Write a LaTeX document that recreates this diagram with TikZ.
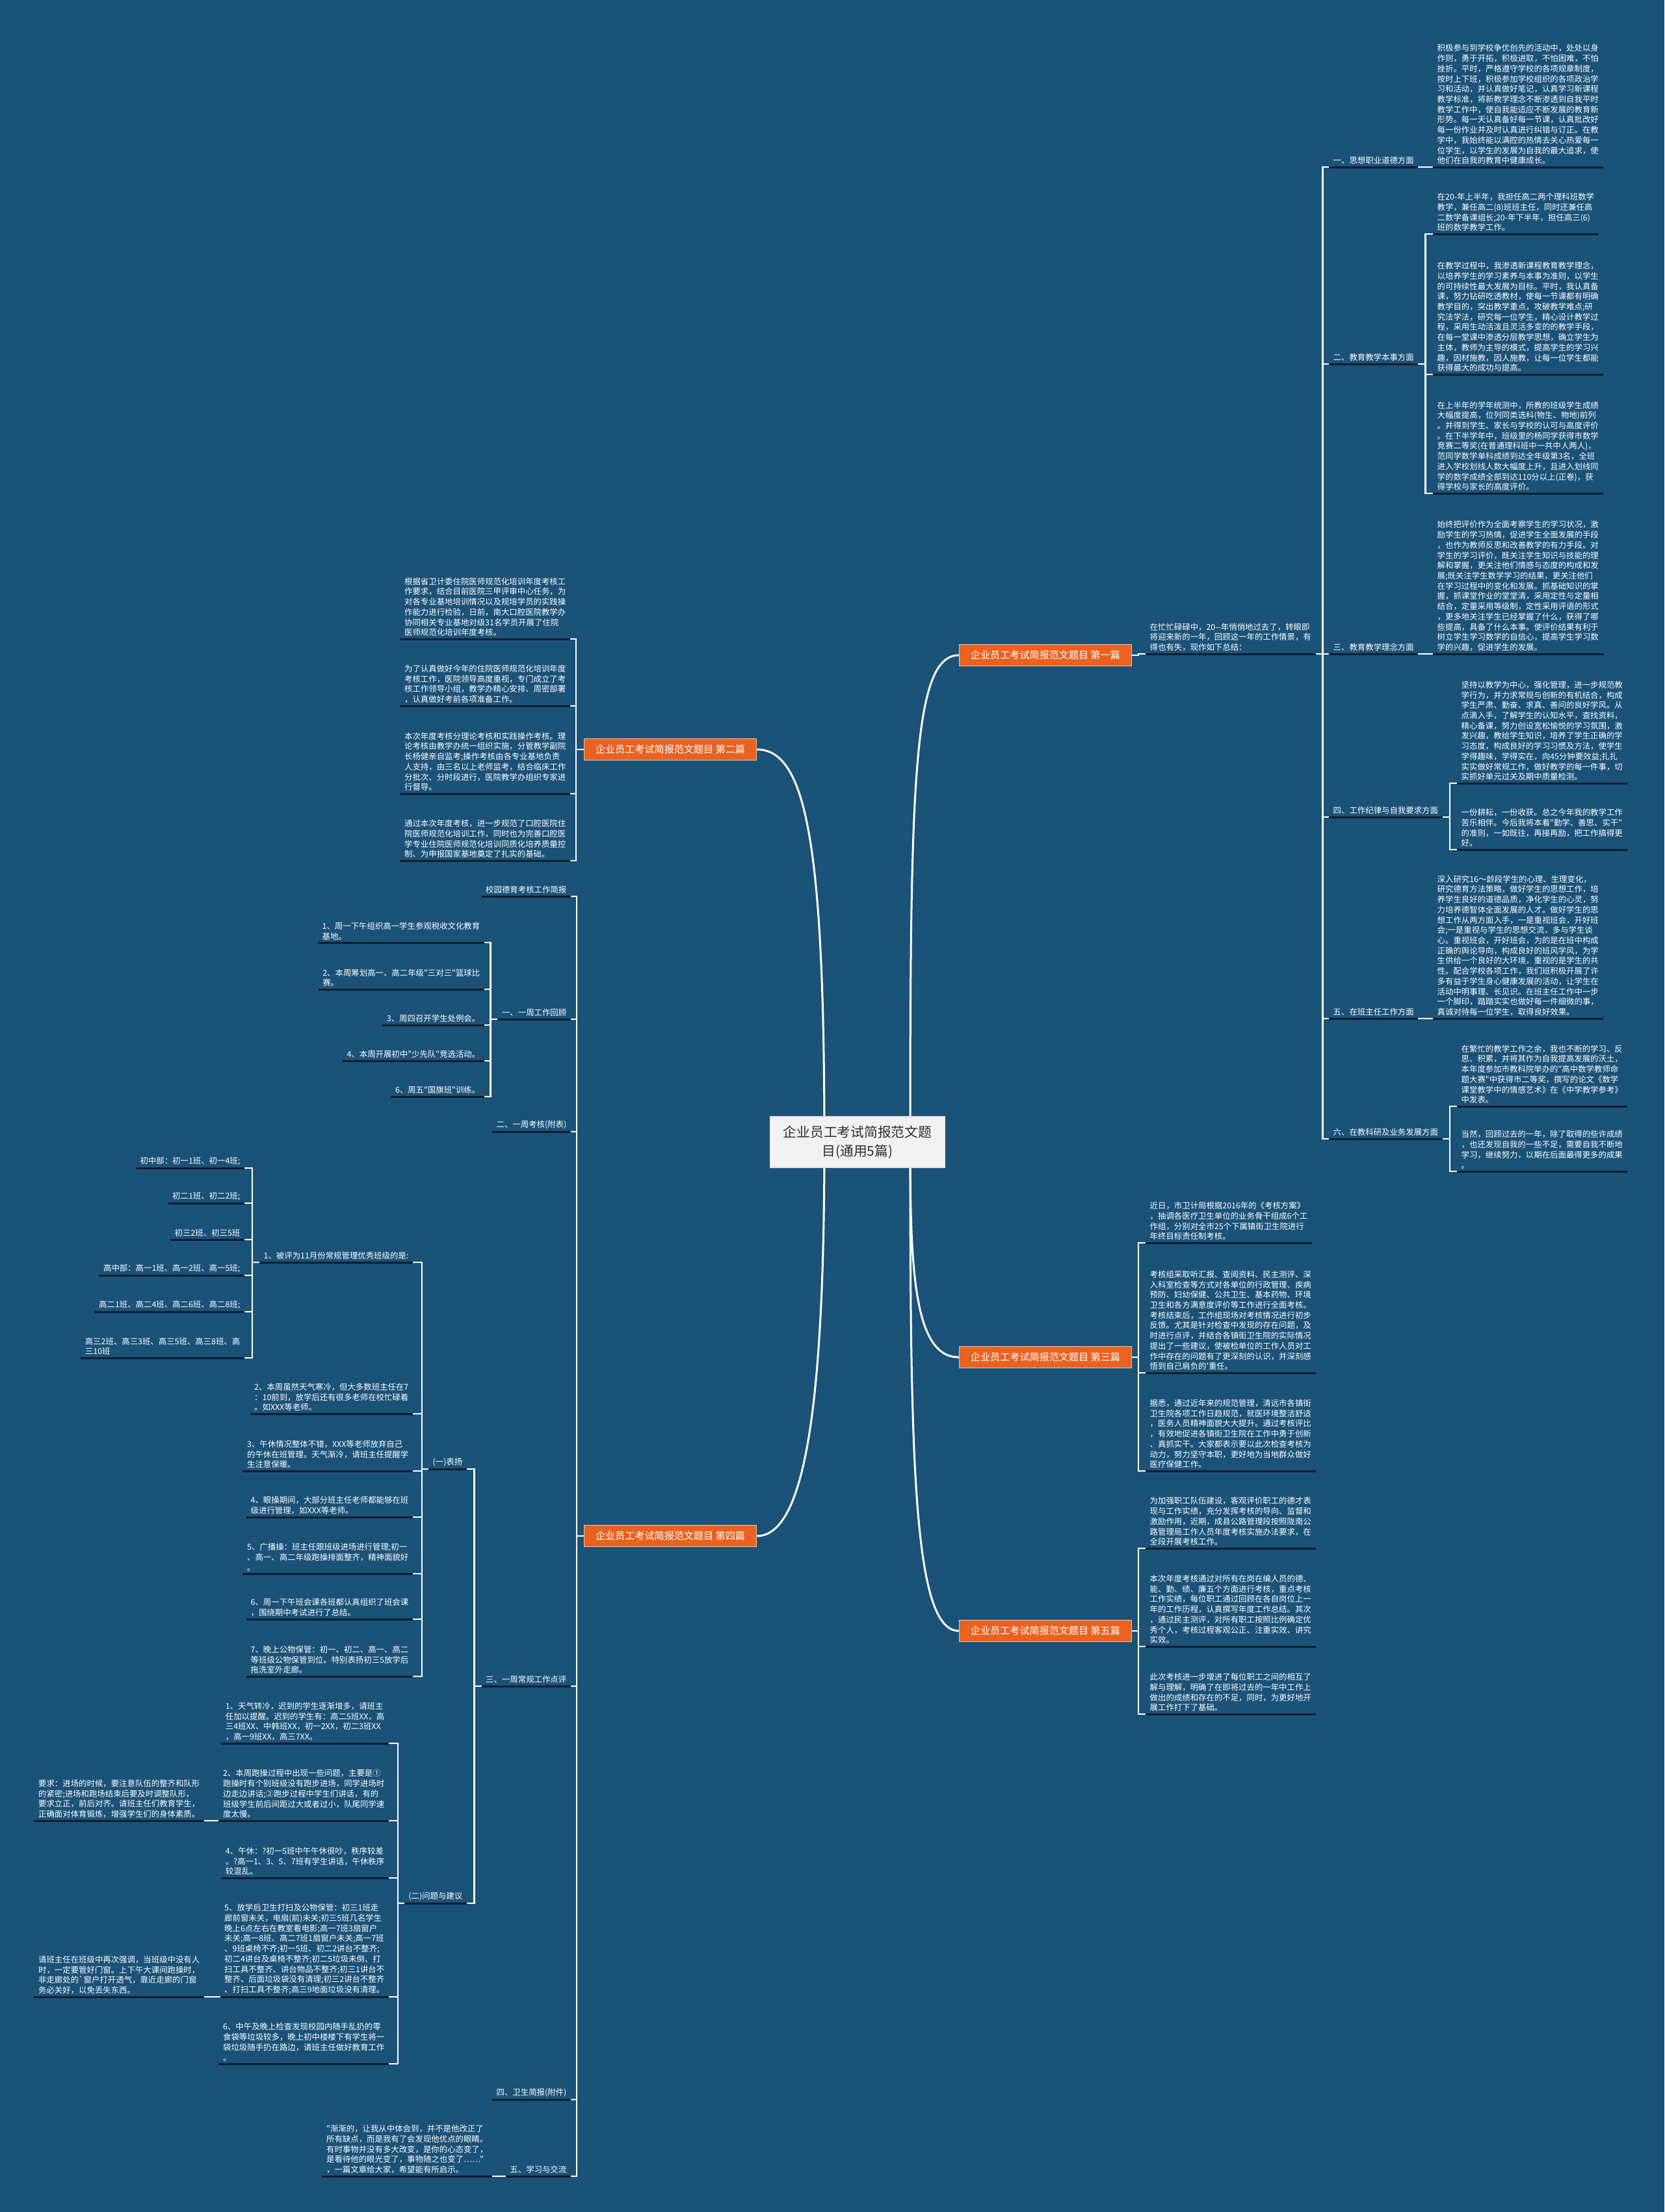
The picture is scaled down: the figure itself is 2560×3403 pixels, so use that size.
\documentclass[tikz,border=0pt]{standalone}
\usepackage{fontspec}
\newfontfamily\cjk{Noto Sans CJK SC}
\usepackage{tikz}

\definecolor{bgblue}{RGB}{27,82,120}
\definecolor{ulinecol}{RGB}{12,30,45}
\definecolor{branchfill}{RGB}{232,98,32}
\definecolor{branchedge}{RGB}{246,196,166}
\definecolor{rootfill}{RGB}{241,241,241}
\definecolor{roottext}{RGB}{45,45,45}

\newcommand\leaffont{\cjk\fontsize{3.53pt}{4.47pt}\selectfont}
\newcommand\branchfont{\cjk\fontsize{4.3pt}{5.2pt}\selectfont}
\newcommand\rootfont{\cjk\fontsize{5.9pt}{8.4pt}\selectfont}

\begin{document}
\begin{tikzpicture}[
    x=0.1mm, y=-0.1mm,
    uline/.style={draw=ulinecol, line width=0.3mm},
    leaf/.style={font=\leaffont, text=white, align=left, inner xsep=0.6mm, inner ysep=0.35mm},
    rleaf/.style={leaf, anchor=south west,
      append after command={(\tikzlastnode.south west) edge[uline] (\tikzlastnode.south east)}},
    lleaf/.style={leaf, anchor=south east,
      append after command={(\tikzlastnode.south west) edge[uline] (\tikzlastnode.south east)}},
    branch/.style={rectangle, fill=branchfill, draw=branchedge, line width=0.15mm,
      text=white, font=\branchfont, minimum width=26.5mm, minimum height=3.3mm, inner sep=0pt},
    rootbox/.style={rectangle, fill=rootfill, draw=white!80!gray, line width=0.15mm,
      text=roottext, font=\rootfont, align=center, minimum width=26.9mm, minimum height=7.8mm},
    link/.style={draw=white, line width=0.24mm},
    curve/.style={draw=white, line width=0.3mm}
  ]
  \fill[bgblue] (0,0) rectangle (2560,3403);

  \node[branch] (one)   at (1608,1008) {企业员工考试简报范文题目 第一篇};
  \node[branch] (two)   at (1031,1153) {企业员工考试简报范文题目 第二篇};
  \node[branch] (three) at (1608,2088) {企业员工考试简报范文题目 第三篇};
  \node[branch] (four)  at (1031,2363) {企业员工考试简报范文题目 第四篇};
  \node[branch] (five)  at (1608,2509) {企业员工考试简报范文题目 第五篇};

  \coordinate (rootR) at (1400,1757);
  \coordinate (rootL) at (1268,1757);
  \draw[curve] (rootR) .. controls (1400,1200) and (1405,1008) .. (one.west);
  \draw[curve] (rootL) .. controls (1268,1300) and (1240,1153) .. (two.east);
  \draw[curve] (rootR) .. controls (1400,1950) and (1405,2088) .. (three.west);
  \draw[curve] (rootL) .. controls (1268,2150) and (1240,2363) .. (four.east);
  \draw[curve] (rootR) .. controls (1400,2250) and (1405,2509) .. (five.west);

  \node[rootbox] (root) at (1319,1757) {企业员工考试简报范文题\\目(通用5篇)};

  \node[rleaf] (intro) at (1762,1006) {在忙忙碌碌中，20--年悄悄地过去了，转眼即\\将迎来新的一年，回顾这一年的工作情景，有\\得也有失，现作如下总结：};

  \node[rleaf] (ethic) at (2044,257)  {一、思想职业道德方面};
  \node[rleaf] (skill) at (2044,560)  {二、教育教学本事方面};
  \node[rleaf] (idea)  at (2044,1006) {三、教育教学理念方面};
  \node[rleaf] (rule)  at (2044,1257) {四、工作纪律与自我要求方面};
  \node[rleaf] (head)  at (2044,1567) {五、在班主任工作方面};
  \node[rleaf] (study) at (2044,1752) {六、在教科研及业务发展方面};

  \node[rleaf] (ethicA) at (2204,257) {积极参与到学校争优创先的活动中，处处以身\\作则，勇于开拓，积极进取，不怕困难，不怕\\挫折。平时，严格遵守学校的各项规章制度，\\按时上下班，积极参加学校组织的各项政治学\\习和活动，并认真做好笔记，认真学习新课程\\教学标准，将新教学理念不断渗透到自我平时\\教学工作中，使自我能适应不断发展的教育新\\形势。每一天认真备好每一节课，认真批改好\\每一份作业并及时认真进行纠错与订正。在教\\学中，我始终能以满腔的热情去关心热爱每一\\位学生，以学生的发展为自我的最大追求，使\\他们在自我的教育中健康成长。};
  \node[rleaf] (skillA) at (2204,360) {在20-年上半年，我担任高二两个理科班数学\\教学，兼任高二(8)班班主任，同时还兼任高\\二数学备课组长;20-年下半年，担任高三(6)\\班的数学教学工作。};
  \node[rleaf] (skillB) at (2204,576) {在教学过程中，我渗透新课程教育教学理念，\\以培养学生的学习素养与本事为准则，以学生\\的可持续性最大发展为目标。平时，我认真备\\课，努力钻研吃透教材，使每一节课都有明确\\教学目的，突出教学重点，攻破教学难点;研\\究法学法，研究每一位学生，精心设计教学过\\程，采用生动活泼且灵活多变的的教学手段，\\在每一堂课中渗透分层教学思想，确立学生为\\主体，教师为主导的模式，提高学生的学习兴\\趣，因材施教，因人施教，让每一位学生都能\\获得最大的成功与提高。};
  \node[rleaf] (skillC) at (2204,759) {在上半年的学年统测中，所教的班级学生成绩\\大幅度提高，位列同类选科(物生、物地)前列\\。并得到学生、家长与学校的认可与高度评价\\。在下半学年中，班级里的杨同学获得市数学\\竞赛二等奖(在普通理科班中一共中人两人)，\\范同学数学单科成绩到达全年级第3名，全班\\进入学校划线人数大幅度上升，且进入划线同\\学的数学成绩全部到达110分以上(正卷)，获\\得学校与家长的高度评价。};
  \node[rleaf] (ideaA) at (2204,1006) {始终把评价作为全面考察学生的学习状况，激\\励学生的学习热情，促进学生全面发展的手段\\，也作为教师反思和改善教学的有力手段。对\\学生的学习评价，既关注学生知识与技能的理\\解和掌握，更关注他们情感与态度的构成和发\\展;既关注学生数学学习的结果，更关注他们\\在学习过程中的变化和发展。抓基础知识的掌\\握，抓课堂作业的堂堂清，采用定性与定量相\\结合，定量采用等级制，定性采用评语的形式\\，更多地关注学生已经掌握了什么，获得了哪\\些提高，具备了什么本事。使评价结果有利于\\树立学生学习数学的自信心，提高学生学习数\\学的兴趣，促进学生的发展。};
  \node[rleaf] (ruleA) at (2241,1205) {坚持以教学为中心，强化管理，进一步规范教\\学行为，并力求常规与创新的有机结合，构成\\学生严肃、勤奋、求真、善问的良好学风。从\\点滴入手，了解学生的认知水平，查找资料，\\精心备课，努力创设宽松愉悦的学习氛围，激\\发兴趣，教给学生知识，培养了学生正确的学\\习态度，构成良好的学习习惯及方法，使学生\\学得趣味，学得实在，向45分钟要效益;扎扎\\实实做好常规工作，做好教学的每一件事，切\\实抓好单元过关及期中质量检测。};
  \node[rleaf] (ruleB) at (2241,1307) {一份耕耘，一份收获。总之今年我的教学工作\\苦乐相伴。今后我将本着"勤学、善思、实干"\\的准则，一如既往，再接再励，把工作搞得更\\好。};
  \node[rleaf] (headA) at (2204,1567) {深入研究16～龄段学生的心理、生理变化，\\研究德育方法策略，做好学生的思想工作，培\\养学生良好的道德品质，净化学生的心灵，努\\力培养德智体全面发展的人才。做好学生的思\\想工作从两方面入手，一是重视班会，开好班\\会;一是重视与学生的思想交流，多与学生谈\\心。重视班会，开好班会，为的是在班中构成\\正确的舆论导向，构成良好的班风学风，为学\\生供给一个良好的大环境，重视的是学生的共\\性。配合学校各项工作，我们班积极开展了许\\多有益于学生身心健康发展的活动，让学生在\\活动中明事理、长见识。在班主任工作中一步\\一个脚印，踏踏实实也做好每一件细微的事，\\真诚对待每一位学生，取得良好效果。};
  \node[rleaf] (studyA) at (2241,1702) {在繁忙的教学工作之余，我也不断的学习、反\\思、积累，并将其作为自我提高发展的沃土，\\本年度参加市教科院举办的"高中数学教师命\\题大赛"中获得市二等奖，撰写的论文《数学\\课堂教学中的情感艺术》在《中学教学参考》\\中发表。};
  \node[rleaf] (studyB) at (2241,1802) {当然，回顾过去的一年，除了取得的些许成绩\\，也还发现自我的一些不足，需要自我不断地\\学习，继续努力，以期在后面最得更多的成果\\。};

  \draw[link] (one.east) -- ++(10,0) |- (intro.south west);
  \draw[link] (intro.south east) -- ++(11,0) |- (ethic.south west);
  \draw[link] (intro.south east) -- ++(11,0) |- (skill.south west);
  \draw[link] (intro.south east) -- ++(11,0) |- (idea.south west);
  \draw[link] (intro.south east) -- ++(11,0) |- (rule.south west);
  \draw[link] (intro.south east) -- ++(11,0) |- (head.south west);
  \draw[link] (intro.south east) -- ++(11,0) |- (study.south west);
  \draw[link] (ethic.south east) -- (ethicA.south west);
  \draw[link] (skill.south east) -- ++(11,0) |- (skillA.south west);
  \draw[link] (skill.south east) -- ++(11,0) |- (skillB.south west);
  \draw[link] (skill.south east) -- ++(11,0) |- (skillC.south west);
  \draw[link] (idea.south east) -- (ideaA.south west);
  \draw[link] (rule.south east) -- ++(11,0) |- (ruleA.south west);
  \draw[link] (rule.south east) -- ++(11,0) |- (ruleB.south west);
  \draw[link] (head.south east) -- (headA.south west);
  \draw[link] (study.south east) -- ++(11,0) |- (studyA.south west);
  \draw[link] (study.south east) -- ++(11,0) |- (studyB.south west);

  \node[lleaf] (trainA) at (877,983) {根据省卫计委住院医师规范化培训年度考核工\\作要求，结合目前医院三甲评审中心任务，为\\对各专业基地培训情况以及规培学员的实践操\\作能力进行检验，日前，南大口腔医院教学办\\协同相关专业基地对级31名学员开展了住院\\医师规范化培训年度考核。};
  \node[lleaf] (trainB) at (877,1086) {为了认真做好今年的住院医师规范化培训年度\\考核工作，医院领导高度重视，专门成立了考\\核工作领导小组，教学办精心安排、周密部署\\，认真做好考前各项准备工作。};
  \node[lleaf] (trainC) at (877,1221) {本次年度考核分理论考核和实践操作考核。理\\论考核由教学办统一组织实施，分管教学副院\\长杨健亲自监考;操作考核由各专业基地负责\\人支持，由三名以上老师监考，结合临床工作\\分批次、分时段进行，医院教学办组织专家进\\行督导。};
  \node[lleaf] (trainD) at (877,1324) {通过本次年度考核，进一步规范了口腔医院住\\院医师规范化培训工作，同时也为完善口腔医\\学专业住院医师规范化培训同质化培养质量控\\制、为申报国家基地奠定了扎实的基础。};

  \draw[link] (two.west) -- ++(-12,0) |- (trainA.south east);
  \draw[link] (two.west) -- ++(-12,0) |- (trainB.south east);
  \draw[link] (two.west) -- ++(-12,0) |- (trainC.south east);
  \draw[link] (two.west) -- ++(-12,0) |- (trainD.south east);

  \node[rleaf] (healthA) at (1762,1912) {近日，市卫计局根据2016年的《考核方案》\\，抽调各医疗卫生单位的业务骨干组成6个工\\作组，分别对全市25个下属镇街卫生院进行\\年终目标责任制考核。};
  \node[rleaf] (healthB) at (1762,2112) {考核组采取听汇报、查阅资料、民主测评、深\\入科室检查等方式对各单位的行政管理、疾病\\预防、妇幼保健、公共卫生、基本药物、环境\\卫生和各方满意度评价等工作进行全面考核。\\考核结束后，工作组现场对考核情况进行初步\\反馈。尤其是针对检查中发现的存在问题，及\\时进行点评，并结合各镇街卫生院的实际情况\\提出了一些建议，使被检单位的工作人员对工\\作中存在的问题有了更深刻的认识，并深刻感\\悟到自己肩负的'重任。};
  \node[rleaf] (healthC) at (1762,2263) {据悉，通过近年来的规范管理，清远市各镇街\\卫生院各项工作日趋规范，就医环境整洁舒适\\，医务人员精神面貌大大提升。通过考核评比\\，有效地促进各镇街卫生院在工作中勇于创新\\、真抓实干。大家都表示要以此次检查考核为\\动力，努力坚守本职，更好地为当地群众做好\\医疗保健工作。};

  \draw[link] (three.east) -- ++(10,0) |- (healthA.south west);
  \draw[link] (three.east) -- ++(10,0) |- (healthB.south west);
  \draw[link] (three.east) -- ++(10,0) |- (healthC.south west);

  \node[rleaf] (roadA) at (1762,2382) {为加强职工队伍建设，客观评价职工的德才表\\现与工作实绩，充分发挥考核的导向、监督和\\激励作用，近期，成县公路管理段按照陇南公\\路管理局工作人员年度考核实施办法要求，在\\全段开展考核工作。};
  \node[rleaf] (roadB) at (1762,2533) {本次年度考核通过对所有在岗在编人员的德、\\能、勤、绩、廉五个方面进行考核，重点考核\\工作实绩，每位职工通过回顾在各自岗位上一\\年的工作历程，认真撰写年度工作总结。其次\\，通过民主测评，对所有职工按照比例确定优\\秀个人，考核过程客观公正、注重实效、讲究\\实效。};
  \node[rleaf] (roadC) at (1762,2637) {此次考核进一步增进了每位职工之间的相互了\\解与理解，明确了在即将过去的一年中工作上\\做出的成绩和存在的不足，同时，为更好地开\\展工作打下了基础。};

  \draw[link] (five.east) -- ++(10,0) |- (roadA.south west);
  \draw[link] (five.east) -- ++(10,0) |- (roadB.south west);
  \draw[link] (five.east) -- ++(10,0) |- (roadC.south west);

  \node[lleaf] (moral)  at (878,1379) {校园德育考核工作简报};
  \node[lleaf] (review) at (878,1568) {一、一周工作回顾};
  \node[lleaf] (exam)   at (878,1741) {二、一周考核(附表)};
  \node[lleaf] (daily)  at (878,2594) {三、一周常规工作点评};
  \node[lleaf] (clean)  at (878,3230) {四、卫生简报(附件)};
  \node[lleaf] (share)  at (878,3348) {五、学习与交流};

  \node[lleaf] (revA) at (745,1450) {1、周一下午组织高一学生参观税收文化教育\\基地。};
  \node[lleaf] (revB) at (745,1522) {2、本周筹划高一、高二年级"三对三"篮球比\\赛。};
  \node[lleaf] (revC) at (745,1577) {3、周四召开学生处例会。};
  \node[lleaf] (revD) at (745,1632) {4、本周开展初中"少先队"竞选活动。};
  \node[lleaf] (revE) at (745,1687) {6、周五"国旗班"训练。};

  \node[lleaf] (praise) at (718,2260) {(一)表扬};
  \node[lleaf] (issue)  at (718,2928) {(二)问题与建议};

  \node[lleaf] (prA) at (635,1942) {1、被评为11月份常规管理优秀班级的是:};
  \node[lleaf] (prB) at (635,2175) {2、本周虽然天气寒冷，但大多数班主任在7\\：10前到，放学后还有很多老师在校忙碌着\\。如XXX等老师。};
  \node[lleaf] (prC) at (635,2263) {3、午休情况整体不错，XXX等老师放弃自己\\的午休在班管理。天气渐冷，请班主任提醒学\\生注意保暖。};
  \node[lleaf] (prD) at (635,2334) {4、眼操期间，大部分班主任老师都能够在班\\级进行管理，如XXX等老师。};
  \node[lleaf] (prE) at (635,2421) {5、广播操：班主任跟班级进场进行管理;初一\\、高一、高二年级跑操排面整齐，精神面貌好\\。};
  \node[lleaf] (prF) at (635,2491) {6、周一下午班会课各班都认真组织了班会课\\，围绕期中考试进行了总结。};
  \node[lleaf] (prG) at (635,2579) {7、晚上公物保管：初一、初二、高一、高二\\等班级公物保管到位。特别表扬初三5放学后\\拖洗室外走廊。};

  \node[lleaf] (clsA) at (376,1797) {初中部：初一1班、初一4班;};
  \node[lleaf] (clsB) at (376,1851) {初二1班、初二2班;};
  \node[lleaf] (clsC) at (376,1907) {初三2班、初三5班};
  \node[lleaf] (clsD) at (376,1962) {高中部：高一1班、高一2班、高一5班;};
  \node[lleaf] (clsE) at (376,2018) {高二1班、高二4班、高二6班、高二8班;};
  \node[lleaf] (clsF) at (376,2089) {高三2班、高三3班、高三5班、高三8班、高\\三10班};

  \node[lleaf] (isA) at (598,2682) {1、天气转冷，迟到的学生逐渐增多，请班主\\任加以提醒。迟到的学生有：高二5班XX，高\\三4班XX、中韩班XX，初一2XX，初二3班XX\\，高一9班XX，高三7XX。};
  \node[lleaf] (isB) at (598,2801) {2、本周跑操过程中出现一些问题，主要是①\\跑操时有个别班级没有跑步进场，同学进场时\\边走边讲话;②跑步过程中学生们讲话，有的\\班级学生前后间距过大或者过小，队尾同学速\\度太慢。};
  \node[lleaf] (isC) at (598,2889) {4、午休：?初一5班中午午休很吵，秩序较差\\。?高一1、3、5、7班有学生讲话，午休秩序\\较混乱。};
  \node[lleaf] (isD) at (598,3072) {5、放学后卫生打扫及公物保管：初三1班走\\廊前窗未关，电扇(前)未关;初三5班几名学生\\晚上6点左右在教室看电影;高一7班3扇窗户\\未关;高一8班、高二7班1扇窗户未关;高一7班\\、9班桌椅不齐;初一5班、初二2讲台不整齐;\\初二4讲台及桌椅不整齐;初二5垃圾未倒、打\\扫工具不整齐、讲台物品不整齐;初三1讲台不\\整齐、后面垃圾袋没有清理;初三2讲台不整齐\\、打扫工具不整齐;高三9地面垃圾没有清理。};
  \node[lleaf] (isE) at (598,3175) {6、中午及晚上检查发现校园内随手乱扔的零\\食袋等垃圾较多，晚上初中楼楼下有学生将一\\袋垃圾随手扔在路边，请班主任做好教育工作\\。};

  \node[lleaf] (noteA) at (314,2801) {要求：进场的时候，要注意队伍的整齐和队形\\的紧密;进场和跑场结束后要及时调整队形，\\要求立正，前后对齐。请班主任们教育学生，\\正确面对体育锻炼，增强学生们的身体素质。};
  \node[lleaf] (noteB) at (314,3072) {请班主任在班级中再次强调，当班级中没有人\\时，一定要管好门窗。上下午大课间跑操时，\\非走廊处的`窗户打开透气，靠近走廊的门窗\\务必关好，以免丢失东西。};

  \node[lleaf] (quote) at (757,3348) {"渐渐的，让我从中体会到，并不是他改正了\\所有缺点，而是我有了会发现他优点的眼睛。\\有时事物并没有多大改变，是你的心态变了，\\是看待他的眼光变了，事物随之也变了……"\\，一篇文章给大家，希望能有所启示。};

  \draw[link] (four.west) -- ++(-11,0) |- (moral.south east);
  \draw[link] (four.west) -- ++(-11,0) |- (review.south east);
  \draw[link] (four.west) -- ++(-11,0) |- (exam.south east);
  \draw[link] (four.west) -- ++(-11,0) |- (daily.south east);
  \draw[link] (four.west) -- ++(-11,0) |- (clean.south east);
  \draw[link] (four.west) -- ++(-11,0) |- (share.south east);
  \draw[link] (review.south west) -- ++(-11,0) |- (revA.south east);
  \draw[link] (review.south west) -- ++(-11,0) |- (revB.south east);
  \draw[link] (review.south west) -- ++(-11,0) |- (revC.south east);
  \draw[link] (review.south west) -- ++(-11,0) |- (revD.south east);
  \draw[link] (review.south west) -- ++(-11,0) |- (revE.south east);
  \draw[link] (daily.south west) -- ++(-11,0) |- (praise.south east);
  \draw[link] (daily.south west) -- ++(-11,0) |- (issue.south east);
  \draw[link] (praise.south west) -- ++(-10,0) |- (prA.south east);
  \draw[link] (praise.south west) -- ++(-10,0) |- (prB.south east);
  \draw[link] (praise.south west) -- ++(-10,0) |- (prC.south east);
  \draw[link] (praise.south west) -- ++(-10,0) |- (prD.south east);
  \draw[link] (praise.south west) -- ++(-10,0) |- (prE.south east);
  \draw[link] (praise.south west) -- ++(-10,0) |- (prF.south east);
  \draw[link] (praise.south west) -- ++(-10,0) |- (prG.south east);
  \draw[link] (prA.south west) -- ++(-11,0) |- (clsA.south east);
  \draw[link] (prA.south west) -- ++(-11,0) |- (clsB.south east);
  \draw[link] (prA.south west) -- ++(-11,0) |- (clsC.south east);
  \draw[link] (prA.south west) -- ++(-11,0) |- (clsD.south east);
  \draw[link] (prA.south west) -- ++(-11,0) |- (clsE.south east);
  \draw[link] (prA.south west) -- ++(-11,0) |- (clsF.south east);
  \draw[link] (issue.south west) -- ++(-10,0) |- (isA.south east);
  \draw[link] (issue.south west) -- ++(-10,0) |- (isB.south east);
  \draw[link] (issue.south west) -- ++(-10,0) |- (isC.south east);
  \draw[link] (issue.south west) -- ++(-10,0) |- (isD.south east);
  \draw[link] (issue.south west) -- ++(-10,0) |- (isE.south east);
  \draw[link] (isB.south west) -- (noteA.south east);
  \draw[link] (isD.south west) -- (noteB.south east);
  \draw[link] (share.south west) -- (quote.south east);
\end{tikzpicture}
\end{document}
